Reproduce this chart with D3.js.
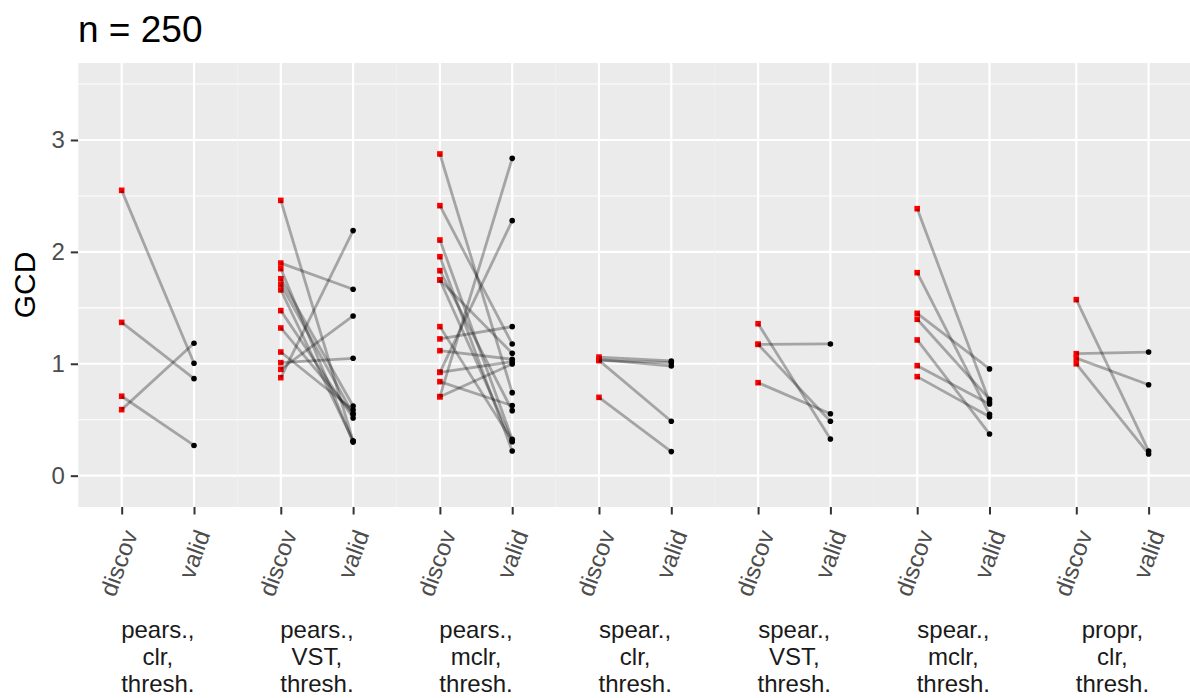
<!DOCTYPE html>
<html>
<head>
<meta charset="utf-8">
<script src="https://cdn.jsdelivr.net/npm/d3@7"></script>
<style>
  body { margin: 0; background: #fff; }
  svg { display: block; font-family: "Liberation Sans", Arial, sans-serif; }
</style>
</head>
<body>
<svg id="chart" width="1190" height="698"></svg>
<script>
const titleText = "n = 250"
const yLabel = "GCD"
const stages = ["discov", "valid"]
const yTicks = [0, 1, 2, 3]
const yMinor = [0.5, 1.5, 2.5, 3.5]

// facet labels (shown under the x axis)
const methods = [
    ["pears.,", "clr,", "thresh."],
    ["pears.,", "VST,", "thresh."],
    ["pears.,", "mclr,", "thresh."],
    ["spear.,", "clr,", "thresh."],
    ["spear.,", "VST,", "thresh."],
    ["spear.,", "mclr,", "thresh."],
    ["propr,", "clr,", "thresh."]
]

// GCD in discovery set, one entry per connected pair
const discovValues = [
    [2.55, 1.37, 0.71, 0.59],
    [2.46, 1.90, 1.85, 1.76, 1.71, 1.66, 1.475, 1.32, 1.105, 1.01, 0.95, 0.876],
    [2.875, 2.413, 2.106, 1.957, 1.832, 1.749, 1.749, 1.332, 1.222, 1.117, 0.924, 0.924, 0.84, 0.706, 0.706],
    [1.06, 1.04, 1.03, 1.03, 0.70],
    [1.358, 1.174, 1.174, 0.831],
    [2.386, 1.814, 1.451, 1.398, 1.213, 0.983, 0.885],
    [1.573, 1.09, 1.05, 1.00]
]

// GCD in validation set, same order as discovValues
const validValues = [
    [1.005, 0.867, 0.27, 1.183],
    [0.31, 1.666, 0.30, 0.623, 0.551, 0.31, 0.516, 0.551, 0.587, 1.049, 1.427, 2.19],
    [0.742, 1.177, 0.325, 0.221, 0.581, 1.094, 0.304, 0.31, 1.332, 1.040, 2.279, 1.019, 0.626, 2.836, 0.998],
    [1.025, 0.98, 1.01, 0.486, 0.215],
    [0.328, 1.177, 0.486, 0.554],
    [0.661, 0.549, 0.954, 0.683, 0.373, 0.641, 0.527],
    [0.221, 1.105, 0.813, 0.194]
]

let svg = d3.select("#chart")

let panelTop = 63
let panelBottom = 507
let panelLeft = 78.3
let panelRight = 1192

let facet = d3.scaleBand()
    .domain(d3.range(methods.length))
    .range([panelLeft, panelRight])
    .padding(0)

let xInner = d3.scalePoint()
    .domain(stages)
    .range([0, facet.bandwidth()])
    .padding(0.6)

let y = d3.scaleLinear()
    .domain([-0.28, 3.688])
    .range([panelBottom, panelTop])

// title
svg.append("text")
    .attr("x", 78)
    .attr("y", 42)
    .attr("font-size", 37)
    .attr("fill", "#000")
    .text(titleText)

// y axis title
svg.append("text")
    .attr("transform", "translate(35," + ((panelTop + panelBottom) / 2) + ") rotate(-90)")
    .attr("text-anchor", "middle")
    .attr("font-size", 30)
    .attr("fill", "#000")
    .text(yLabel)

// y axis
let yAxis = svg.append("g")
    .attr("transform", "translate(" + panelLeft + ",0)")
    .call(d3.axisLeft(y).tickValues(yTicks).tickFormat(d3.format("d")).tickSize(7.5).tickPadding(6))
yAxis.select(".domain").remove()
yAxis.selectAll("line").attr("stroke", "#333").attr("stroke-width", 2)
yAxis.selectAll("text").attr("font-size", 24).attr("fill", "#4D4D4D")
    .attr("font-family", "Liberation Sans, Arial, sans-serif")

methods.forEach(function(label, i) {
    let g = svg.append("g")
        .attr("transform", "translate(" + facet(i) + ",0)")

    g.append("rect")
        .attr("x", 0)
        .attr("y", panelTop)
        .attr("width", facet.bandwidth())
        .attr("height", panelBottom - panelTop)
        .attr("fill", "#EBEBEB")

    // grid
    g.selectAll(".minor").data(yMinor).enter().append("line")
        .attr("x1", 0).attr("x2", facet.bandwidth())
        .attr("y1", d => y(d)).attr("y2", d => y(d))
        .attr("stroke", "#fff").attr("stroke-width", 1.1)
    g.selectAll(".major").data(yTicks).enter().append("line")
        .attr("x1", 0).attr("x2", facet.bandwidth())
        .attr("y1", d => y(d)).attr("y2", d => y(d))
        .attr("stroke", "#fff").attr("stroke-width", 2.2)
    g.selectAll(".vmajor").data(stages).enter().append("line")
        .attr("x1", d => xInner(d)).attr("x2", d => xInner(d))
        .attr("y1", panelTop).attr("y2", panelBottom)
        .attr("stroke", "#fff").attr("stroke-width", 2.2)

    // x axis for this facet
    let xAxis = g.append("g")
        .attr("transform", "translate(0," + panelBottom + ")")
        .call(d3.axisBottom(xInner).tickSize(7.5))
    xAxis.select(".domain").remove()
    xAxis.selectAll("line").attr("stroke", "#333").attr("stroke-width", 2)
    xAxis.selectAll("text")
        .attr("x", 0).attr("y", 0).attr("dy", 0)
        .attr("transform", "translate(16,27) rotate(-70)")
        .attr("text-anchor", "end")
        .attr("font-size", 24)
        .attr("fill", "#4D4D4D")
        .attr("font-family", "Liberation Sans, Arial, sans-serif")

    // strip label below
    let strip = g.append("text")
        .attr("text-anchor", "middle")
        .attr("font-size", 24)
        .attr("fill", "#1A1A1A")
    label.forEach(function(line, k) {
        strip.append("tspan")
            .attr("x", facet.bandwidth() / 2)
            .attr("y", 638 + k * 27)
            .text(line)
    })

    let pairs = discovValues[i].map((d, k) => [d, validValues[i][k]])

    g.selectAll(".vpt").data(validValues[i]).enter().append("circle")
        .attr("cx", xInner("valid"))
        .attr("cy", d => y(d))
        .attr("r", 2.8)
        .attr("fill", "#000")

    g.selectAll(".dpt").data(discovValues[i]).enter().append("rect")
        .attr("x", xInner("discov") - 2.8)
        .attr("y", d => y(d) - 2.8)
        .attr("width", 5.6)
        .attr("height", 5.6)
        .attr("fill", "#FF0000")

    let line = d3.line()
        .x((d, k) => xInner(stages[k]))
        .y(d => y(d))

    g.selectAll(".pair").data(pairs).enter().append("path")
        .attr("d", d => line(d))
        .attr("fill", "none")
        .attr("stroke", "#000")
        .attr("stroke-opacity", 0.3)
        .attr("stroke-width", 2.8)
})
</script>
</body>
</html>
